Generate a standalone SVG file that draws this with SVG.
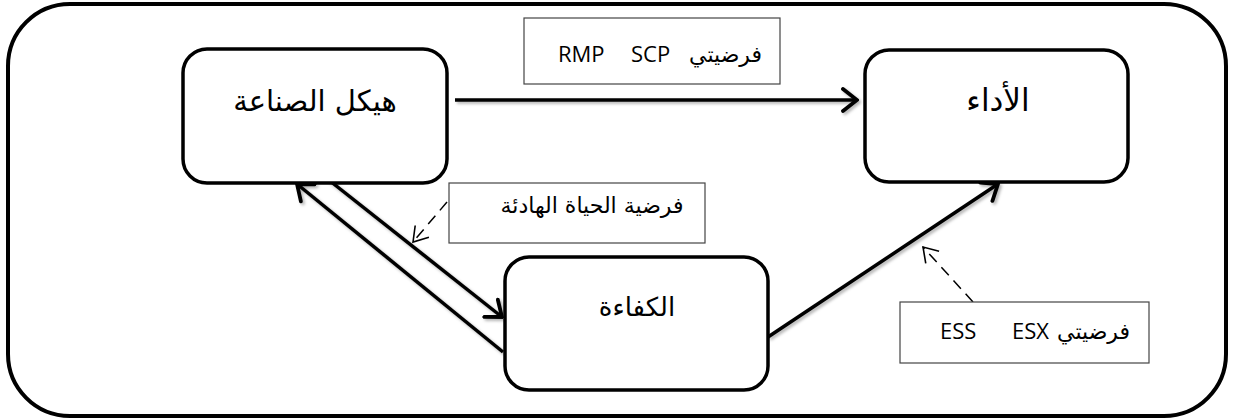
<svg xmlns="http://www.w3.org/2000/svg" width="1237" height="420" viewBox="0 0 1237 420">
  <style>
    .frame { fill: #ffffff; stroke: #000; stroke-width: 4; }
    .node { fill: #ffffff; stroke: #000; stroke-width: 3.5; }
    .note { fill: #ffffff; stroke: #444; stroke-width: 1.2; }
    .ar { font-family: 'DejaVu Sans', sans-serif; fill: #000; }
    .lbl { font-family: 'Open Sans', 'DejaVu Sans', sans-serif; font-size: 22px; fill: #000; }
    .lbl-ar { font-family: 'DejaVu Sans', sans-serif; font-size: 22px; }
    .link { fill: none; stroke: #000; stroke-width: 3.5; }
    .hint { fill: none; stroke: #000; stroke-width: 1.5; stroke-dasharray: 11 7; }
  </style>
  <defs>
    <marker id="head" viewBox="-16 -13 18 26" refX="0" refY="0" markerWidth="18" markerHeight="26" markerUnits="userSpaceOnUse" orient="auto">
      <path d="M-14,-11 L0,0 L-14,11" fill="none" stroke="#000" stroke-width="3.8" stroke-linecap="round" stroke-linejoin="miter"/>
    </marker>
    <marker id="headThin" viewBox="-16 -11 18 22" refX="0" refY="0" markerWidth="18" markerHeight="22" markerUnits="userSpaceOnUse" orient="auto">
      <path d="M-14,-9 L0,0 L-14,9" fill="none" stroke="#000" stroke-width="1.6"/>
    </marker>
    <filter id="shade" x="-10%" y="-10%" width="120%" height="120%">
      <feDropShadow dx="2" dy="2" stdDeviation="1.5" flood-color="#000" flood-opacity="0.3"/>
    </filter>
  </defs>

  <!-- outer frame -->
  <rect class="frame" x="8" y="4" width="1218" height="412" rx="62" ry="62"/>

  <!-- connectors -->
  <g id="connectors">
    <g filter="url(#shade)">
      <line class="link" x1="455" y1="100" x2="857" y2="100" marker-end="url(#head)"/>
      <line class="link" x1="503" y1="352" x2="297" y2="184" marker-end="url(#head)"/>
      <line class="link" x1="325" y1="177" x2="502" y2="317" marker-end="url(#head)"/>
      <line class="link" x1="768" y1="337" x2="998" y2="184" marker-end="url(#head)"/>
    </g>
    <line class="hint" x1="447" y1="202" x2="413" y2="242" marker-end="url(#headThin)"/>
    <line class="hint" x1="973" y1="302" x2="923" y2="247" marker-end="url(#headThin)"/>
  </g>

  <!-- main nodes -->
  <g id="industry-structure">
    <rect class="node" x="183" y="49" width="264" height="134" rx="24"/>
    <text class="ar" x="315" y="111" style="font-size:29px" text-anchor="middle" direction="rtl">هيكل الصناعة</text>
  </g>
  <g id="performance">
    <rect class="node" x="865" y="50" width="263" height="132" rx="24"/>
    <text class="ar" x="998" y="111" style="font-size:31px" text-anchor="middle" direction="rtl">الأداء</text>
  </g>
  <g id="efficiency">
    <rect class="node" x="505" y="257" width="263" height="133" rx="24"/>
    <text class="ar" x="637" y="316" style="font-size:26px" text-anchor="middle" direction="rtl">الكفاءة</text>
  </g>

  <!-- hypothesis notes -->
  <g id="note-scp-rmp">
    <rect class="note" x="524" y="18" width="256" height="66"/>
    <text class="lbl" y="62"><tspan x="558">RMP</tspan><tspan x="631">SCP</tspan><tspan class="lbl-ar" x="762" text-anchor="end">فرضيتي</tspan></text>
  </g>
  <g id="note-quiet-life">
    <rect class="note" x="449" y="183" width="256" height="60"/>
    <text class="lbl lbl-ar" x="592" y="213" text-anchor="middle" direction="rtl">فرضية الحياة الهادئة</text>
  </g>
  <g id="note-esx-ess">
    <rect class="note" x="900" y="302" width="249" height="61"/>
    <text class="lbl" y="339"><tspan x="940">ESS</tspan><tspan x="1012">ESX</tspan><tspan class="lbl-ar" x="1130" text-anchor="end">فرضيتي</tspan></text>
  </g>
</svg>
